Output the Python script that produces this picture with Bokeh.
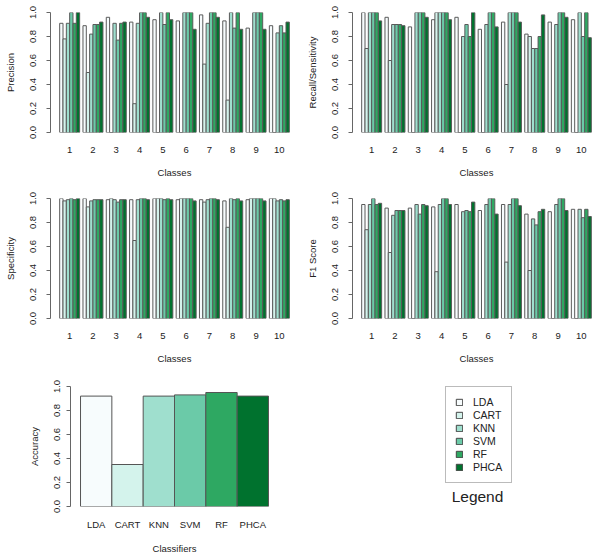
import math
from bokeh.plotting import figure
from bokeh.models import (Range1d, FixedTicker, NumeralTickFormatter, ColumnDataSource,
                          Legend, LegendItem, Label)
from bokeh.layouts import column, row
from bokeh.embed import file_html
from bokeh.resources import INLINE

classes = ["1", "2", "3", "4", "5", "6", "7", "8", "9", "10"]
classifiers = ["LDA", "CART", "KNN", "SVM", "RF", "PHCA"]
colors = ["#F7FCFD", "#D4F3EC", "#9FDFCE", "#6BCAA8", "#2EA862", "#00722E"]

precision_LDA = [0.91, 0.89, 0.96, 0.92, 0.94, 0.93, 0.98, 0.93, 0.87, 0.89]
precision_CART = [0.78, 0.50, 0.0, 0.24, 0.0, 0.0, 0.57, 0.27, 0.0, 0.0]
precision_KNN = [0.91, 0.82, 0.91, 0.91, 1.0, 1.0, 0.91, 1.0, 1.0, 0.83]
precision_SVM = [1.0, 0.90, 0.77, 1.0, 0.90, 1.0, 1.0, 0.87, 1.0, 0.89]
precision_RF = [0.91, 0.90, 0.91, 1.0, 1.0, 1.0, 1.0, 1.0, 1.0, 0.83]
precision_PHCA = [1.0, 0.92, 0.92, 0.96, 0.94, 0.86, 0.96, 0.86, 0.86, 0.92]

recall_LDA = [1.0, 0.96, 0.88, 0.94, 0.96, 0.86, 0.92, 0.82, 0.92, 0.94]
recall_CART = [0.70, 0.60, 0.0, 1.0, 0.0, 0.0, 0.40, 0.80, 0.0, 0.0]
recall_KNN = [1.0, 0.90, 1.0, 1.0, 0.80, 0.90, 1.0, 0.70, 0.90, 1.0]
recall_SVM = [1.0, 0.90, 1.0, 1.0, 0.90, 1.0, 1.0, 0.70, 1.0, 0.80]
recall_RF = [1.0, 0.90, 1.0, 1.0, 0.80, 1.0, 1.0, 0.80, 1.0, 1.0]
recall_PHCA = [0.93, 0.89, 0.96, 0.94, 1.0, 0.88, 0.92, 0.98, 0.96, 0.79]

specificity_LDA = [1.0, 1.0, 0.99, 0.99, 1.0, 0.99, 0.99, 0.98, 0.99, 1.0]
specificity_CART = [0.98, 0.93, 1.0, 0.65, 1.0, 1.0, 0.97, 0.76, 1.0, 1.0]
specificity_KNN = [0.99, 0.98, 0.99, 0.99, 1.0, 1.0, 0.99, 1.0, 1.0, 0.98]
specificity_SVM = [1.0, 0.99, 0.97, 1.0, 0.99, 1.0, 1.0, 0.99, 1.0, 0.99]
specificity_RF = [0.99, 0.99, 0.99, 1.0, 1.0, 1.0, 1.0, 1.0, 1.0, 0.98]
specificity_PHCA = [1.0, 0.99, 0.99, 0.99, 0.99, 0.98, 0.99, 0.98, 0.98, 0.99]

f1_LDA = [0.95, 0.92, 0.92, 0.93, 0.95, 0.90, 0.95, 0.87, 0.89, 0.91]
f1_CART = [0.74, 0.55, 0.0, 0.39, 0.0, 0.0, 0.47, 0.40, 0.0, 0.0]
f1_KNN = [0.95, 0.86, 0.95, 0.95, 0.89, 0.95, 0.95, 0.83, 0.95, 0.91]
f1_SVM = [1.0, 0.90, 0.87, 1.0, 0.90, 1.0, 1.0, 0.78, 1.0, 0.84]
f1_RF = [0.95, 0.90, 0.95, 1.0, 0.89, 1.0, 1.0, 0.89, 1.0, 0.91]
f1_PHCA = [0.96, 0.90, 0.94, 0.95, 0.97, 0.87, 0.94, 0.91, 0.90, 0.85]

accuracy = [0.92, 0.35, 0.92, 0.93, 0.95, 0.92]

precision = [precision_LDA, precision_CART, precision_KNN, precision_SVM, precision_RF, precision_PHCA]
recall = [recall_LDA, recall_CART, recall_KNN, recall_SVM, recall_RF, recall_PHCA]
specificity = [specificity_LDA, specificity_CART, specificity_KNN, specificity_SVM, specificity_RF, specificity_PHCA]
f1 = [f1_LDA, f1_CART, f1_KNN, f1_SVM, f1_RF, f1_PHCA]

FONT = "Liberation Sans"
TXT = "#222222"
AXC = "#666666"
EDGE = "#5a5a5a"
FS = "9.5px"


def style_axes(p, xlabel, ylabel, xticks, xlabels, ystand, xstand, xtitle_stand):
    p.grid.grid_line_color = None
    p.outline_line_color = None
    p.background_fill_color = "white"
    p.border_fill_color = "white"
    ya = p.yaxis[0]
    ya.ticker = FixedTicker(ticks=[0.0, 0.2, 0.4, 0.6, 0.8, 1.0])
    ya.formatter = NumeralTickFormatter(format="0.0")
    ya.major_label_orientation = "vertical"
    ya.minor_tick_line_color = None
    ya.major_tick_out = 4
    ya.major_tick_in = 0
    ya.major_label_standoff = ystand
    ya.axis_line_color = AXC
    ya.major_tick_line_color = AXC
    ya.axis_label = ylabel
    ya.axis_label_standoff = 11
    xa = p.xaxis[0]
    xa.ticker = FixedTicker(ticks=xticks)
    xa.major_label_overrides = {float(t): lab for t, lab in zip(xticks, xlabels)}
    xa.axis_line_color = None
    xa.major_tick_line_color = None
    xa.minor_tick_line_color = None
    xa.major_tick_out = 0
    xa.major_label_standoff = xstand
    xa.axis_label = xlabel
    xa.axis_label_standoff = xtitle_stand
    for ax in (xa, ya):
        ax.major_label_text_font = FONT
        ax.major_label_text_font_size = FS
        ax.major_label_text_color = TXT
        ax.axis_label_text_font = FONT
        ax.axis_label_text_font_size = FS
        ax.axis_label_text_font_style = "normal"
        ax.axis_label_text_color = TXT


def grouped_panel(data, ylabel, height, left, right, top, bottom):
    p = figure(width=300, height=height, x_range=Range1d(-1.76, 72.76), y_range=Range1d(0, 1),
               output_backend="svg", toolbar_location=None,
               min_border_left=left, min_border_right=right,
               min_border_top=top, min_border_bottom=bottom)
    ngroup = len(classes)
    nbar = len(classifiers)
    for j, name in enumerate(classifiers):
        xs = [i * (nbar + 1) + 1 + j + 0.5 for i in range(ngroup)]
        p.vbar(x=xs, top=data[j], bottom=0, width=1, fill_color=colors[j],
               line_color=EDGE, line_width=1)
    centers = [i * (nbar + 1) + 1 + nbar / 2 for i in range(ngroup)]
    style_axes(p, "Classes", ylabel, centers, classes, 11, 14, 11)
    return p


p1 = grouped_panel(precision, "Precision", 185, 50, 2, 12, 53)
p2 = grouped_panel(recall, "Recall/Sensitivity", 185, 52, 0, 12, 53)
p3 = grouped_panel(specificity, "Specificity", 182, 50, 2, 13, 49)
p4 = grouped_panel(f1, "F1 Score", 182, 52, 0, 13, 49)

# Accuracy panel
pa = figure(width=300, height=190, x_range=Range1d(-0.32, 6.32), y_range=Range1d(0, 1),
            output_backend="svg", toolbar_location=None,
            min_border_left=70, min_border_right=22, min_border_top=19, min_border_bottom=51)
acc_src = ColumnDataSource(dict(x=[i + 0.5 for i in range(len(classifiers))], top=accuracy,
                                color=colors, name=classifiers))
pa.vbar(x="x", top="top", bottom=0, width=1, fill_color="color", line_color="#555555",
        line_width=1, source=acc_src)
style_axes(pa, "Classifiers", "Accuracy", [i + 0.5 for i in range(len(classifiers))], classifiers,
           7, 12, 10)

# Legend panel (frame aligned with the accuracy panel's frame: top 19, bottom 51)
pl = figure(width=300, height=190, x_range=Range1d(0, 1), y_range=Range1d(0, 1),
            output_backend="svg", toolbar_location=None, x_axis_type=None, y_axis_type=None,
            min_border_left=0, min_border_right=0, min_border_top=19, min_border_bottom=51)
pl.grid.grid_line_color = None
pl.outline_line_color = None
leg_src = ColumnDataSource(dict(x=[i + 0.5 for i in range(len(classifiers))], top=accuracy,
                                color=colors, name=classifiers))
leg_r = pl.vbar(x="x", top="top", bottom=0, width=1, fill_color="color", line_color="#444444",
                line_width=1, source=leg_src)
leg_r.visible = False
items = [LegendItem(label=name, renderers=[leg_r], index=i) for i, name in enumerate(classifiers)]
leg = Legend(items=items, location=(145, 23), orientation="vertical", click_policy="none",
             glyph_width=8, glyph_height=8, label_height=11, spacing=1, padding=9,
             label_standoff=10, label_text_font=FONT, label_text_font_size="10.5px",
             label_text_color=TXT, border_line_color="#777777", border_line_width=1,
             background_fill_color="white", background_fill_alpha=1.0,
             inactive_fill_alpha=0.0)
pl.add_layout(leg, "center")
pl.add_layout(Label(x=177, y=10, x_units="screen", y_units="screen", text="Legend",
                    text_align="center", text_baseline="middle", text_font=FONT,
                    text_font_size="15.5px", text_color=TXT))

layout = column(row(p1, p2), row(p3, p4), row(pa, pl))
open("out.html", "w").write(file_html(layout, INLINE))
